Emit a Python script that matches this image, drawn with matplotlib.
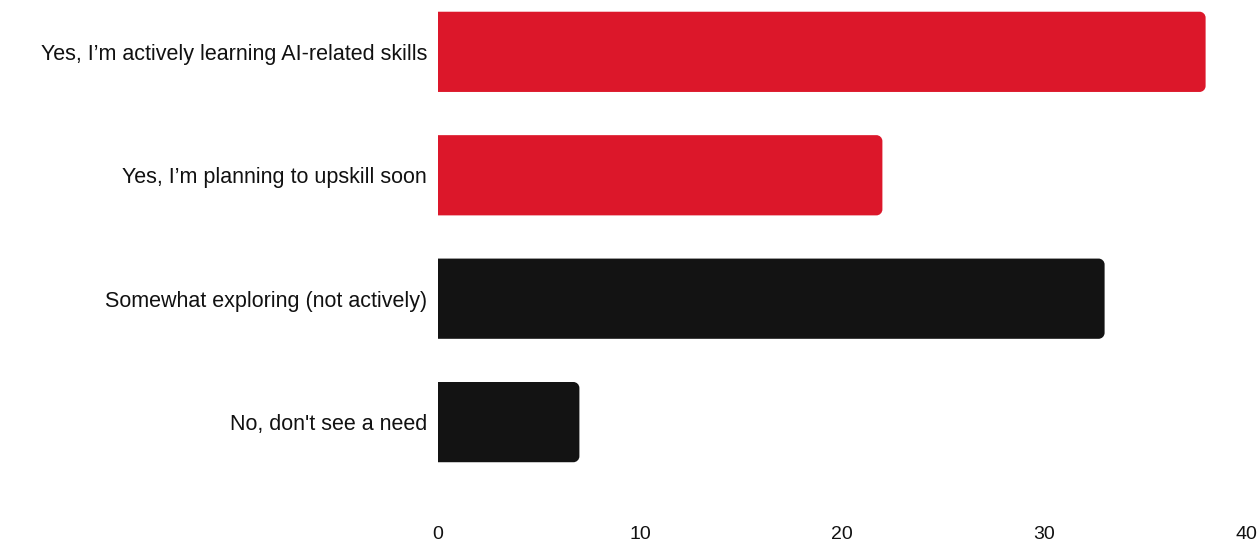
import matplotlib.pyplot as plt
from matplotlib import font_manager
from matplotlib.path import Path
from matplotlib.patches import PathPatch

# pick the regular-width Liberation Sans file (not the Narrow cut)
regular = [f.fname for f in font_manager.fontManager.ttflist
           if 'LiberationSans-Regular' in f.fname]
if regular:
    FONT = font_manager.FontProperties(fname=regular[0])
else:
    FONT = font_manager.FontProperties(family=['Liberation Sans', 'DejaVu Sans'])

categories = [
    'Yes, I\u2019m actively learning AI-related skills',
    'Yes, I\u2019m planning to upskill soon',
    'Somewhat exploring (not actively)',
    "No, don't see a need",
]
values = [38, 22, 33, 7]
colors = ['#DC172A', '#DC172A', '#131313', '#131313']
x_ticks = [0, 10, 20, 30, 40]

BAR_HEIGHT = 0.65
RADIUS_PX = 6


def right_rounded_bar(x0, x1, yc, h, rx, ry):
    # rectangle with rounded corners on the right end only
    y0, y1 = yc - h / 2, yc + h / 2
    k = 0.5523
    verts = [
        (x0, y0),
        (x1 - rx, y0),
        (x1 - rx + rx * k, y0), (x1, y0 + ry - ry * k), (x1, y0 + ry),
        (x1, y1 - ry),
        (x1, y1 - ry + ry * k), (x1 - rx + rx * k, y1), (x1 - rx, y1),
        (x0, y1),
        (x0, y0),
    ]
    codes = [Path.MOVETO, Path.LINETO,
             Path.CURVE4, Path.CURVE4, Path.CURVE4,
             Path.LINETO,
             Path.CURVE4, Path.CURVE4, Path.CURVE4,
             Path.LINETO, Path.CLOSEPOLY]
    return Path(verts, codes)


fig = plt.figure(figsize=(12.59, 5.41), dpi=100)
ax = fig.add_axes([438 / 1259, 1 - 490 / 541, (1246 - 438) / 1259, 490 / 541])

ax.set_xlim(0, 40)
ax.set_ylim(3.55, -0.42)

# data units per pixel for the corner radius
fig.canvas.draw()
bbox = ax.get_window_extent()
rx = RADIUS_PX * 40 / bbox.width
ry = RADIUS_PX * (3.55 + 0.42) / bbox.height

for i, (v, c) in enumerate(zip(values, colors)):
    ax.add_patch(PathPatch(right_rounded_bar(0, v, i, BAR_HEIGHT, rx, ry),
                           facecolor=c, edgecolor='none'))

ax.set_yticks(range(len(categories)))
ax.set_yticklabels(categories, fontproperties=FONT, fontsize=15.5, color='#111111')
ax.set_xticks(x_ticks)
ax.set_xticklabels([str(t) for t in x_ticks], fontproperties=FONT, fontsize=14,
                   color='#111111')
ax.tick_params(axis='y', length=0, pad=8)
ax.tick_params(axis='x', length=0, pad=26)

for s in ax.spines.values():
    s.set_visible(False)

fig.savefig('out.png', dpi=100, facecolor='white')
